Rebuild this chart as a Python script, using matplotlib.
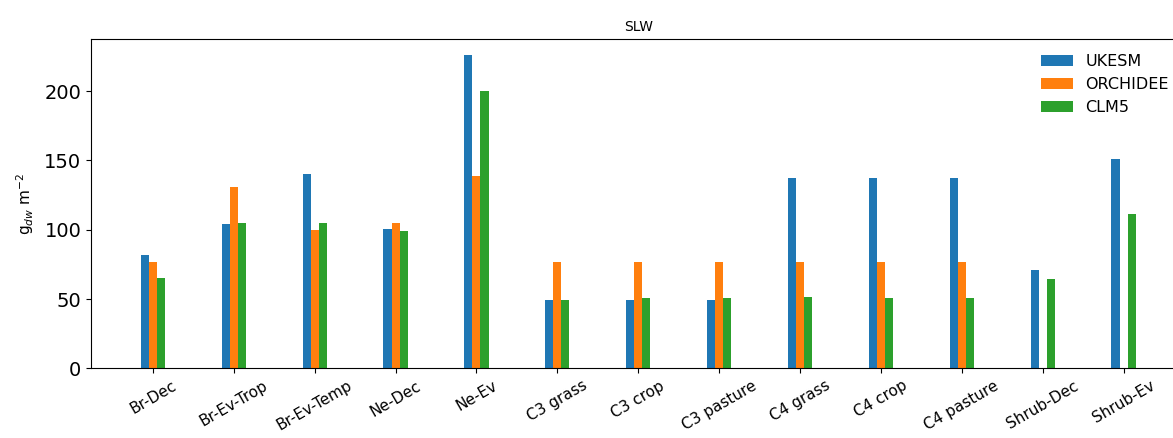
import numpy as np
import matplotlib
matplotlib.use("Agg")
import matplotlib.pyplot as plt

categories = ["Br-Dec", "Br-Ev-Trop", "Br-Ev-Temp", "Ne-Dec", "Ne-Ev",
              "C3 grass", "C3 crop", "C3 pasture", "C4 grass", "C4 crop",
              "C4 pasture", "Shrub-Dec", "Shrub-Ev"]
ukesm = [82, 104, 140, 100.5, 226, 49, 49, 49, 137, 137, 137, 71, 151]
orchidee = [77, 130.5, 100, 105, 139, 77, 77, 77, 77, 77, 77, np.nan, np.nan]
clm5 = [65, 105, 105, 99, 200, 49.5, 50.5, 50.5, 51.5, 50.5, 50.5, 64.5, 111]

series = [("UKESM", ukesm, "#1f77b4"),
          ("ORCHIDEE", orchidee, "#ff7f0e"),
          ("CLM5", clm5, "#2ca02c")]

fig = plt.figure(figsize=(11.73, 4.38), dpi=100)
ax = fig.add_axes([0.0776, 0.159, 0.933, 0.751])

x = np.arange(len(categories))
width = 0.1
for i, (name, vals, color) in enumerate(series):
    ax.bar(x + (i - 1) * width, vals, width, label=name, color=color)

ax.set_xticks(x)
ax.set_xticklabels(categories, rotation=30, fontsize=11)
ax.tick_params(axis="y", labelsize=14)
ax.set_ylabel(r"g$_{dw}$ m$^{-2}$", fontsize=11, labelpad=6)
ax.set_title("SLW", fontsize=10)
ax.legend(frameon=False, loc="upper right", fontsize=11.5,
          bbox_to_anchor=(0.998, 1.0))

fig.savefig("out.png", dpi=100)
